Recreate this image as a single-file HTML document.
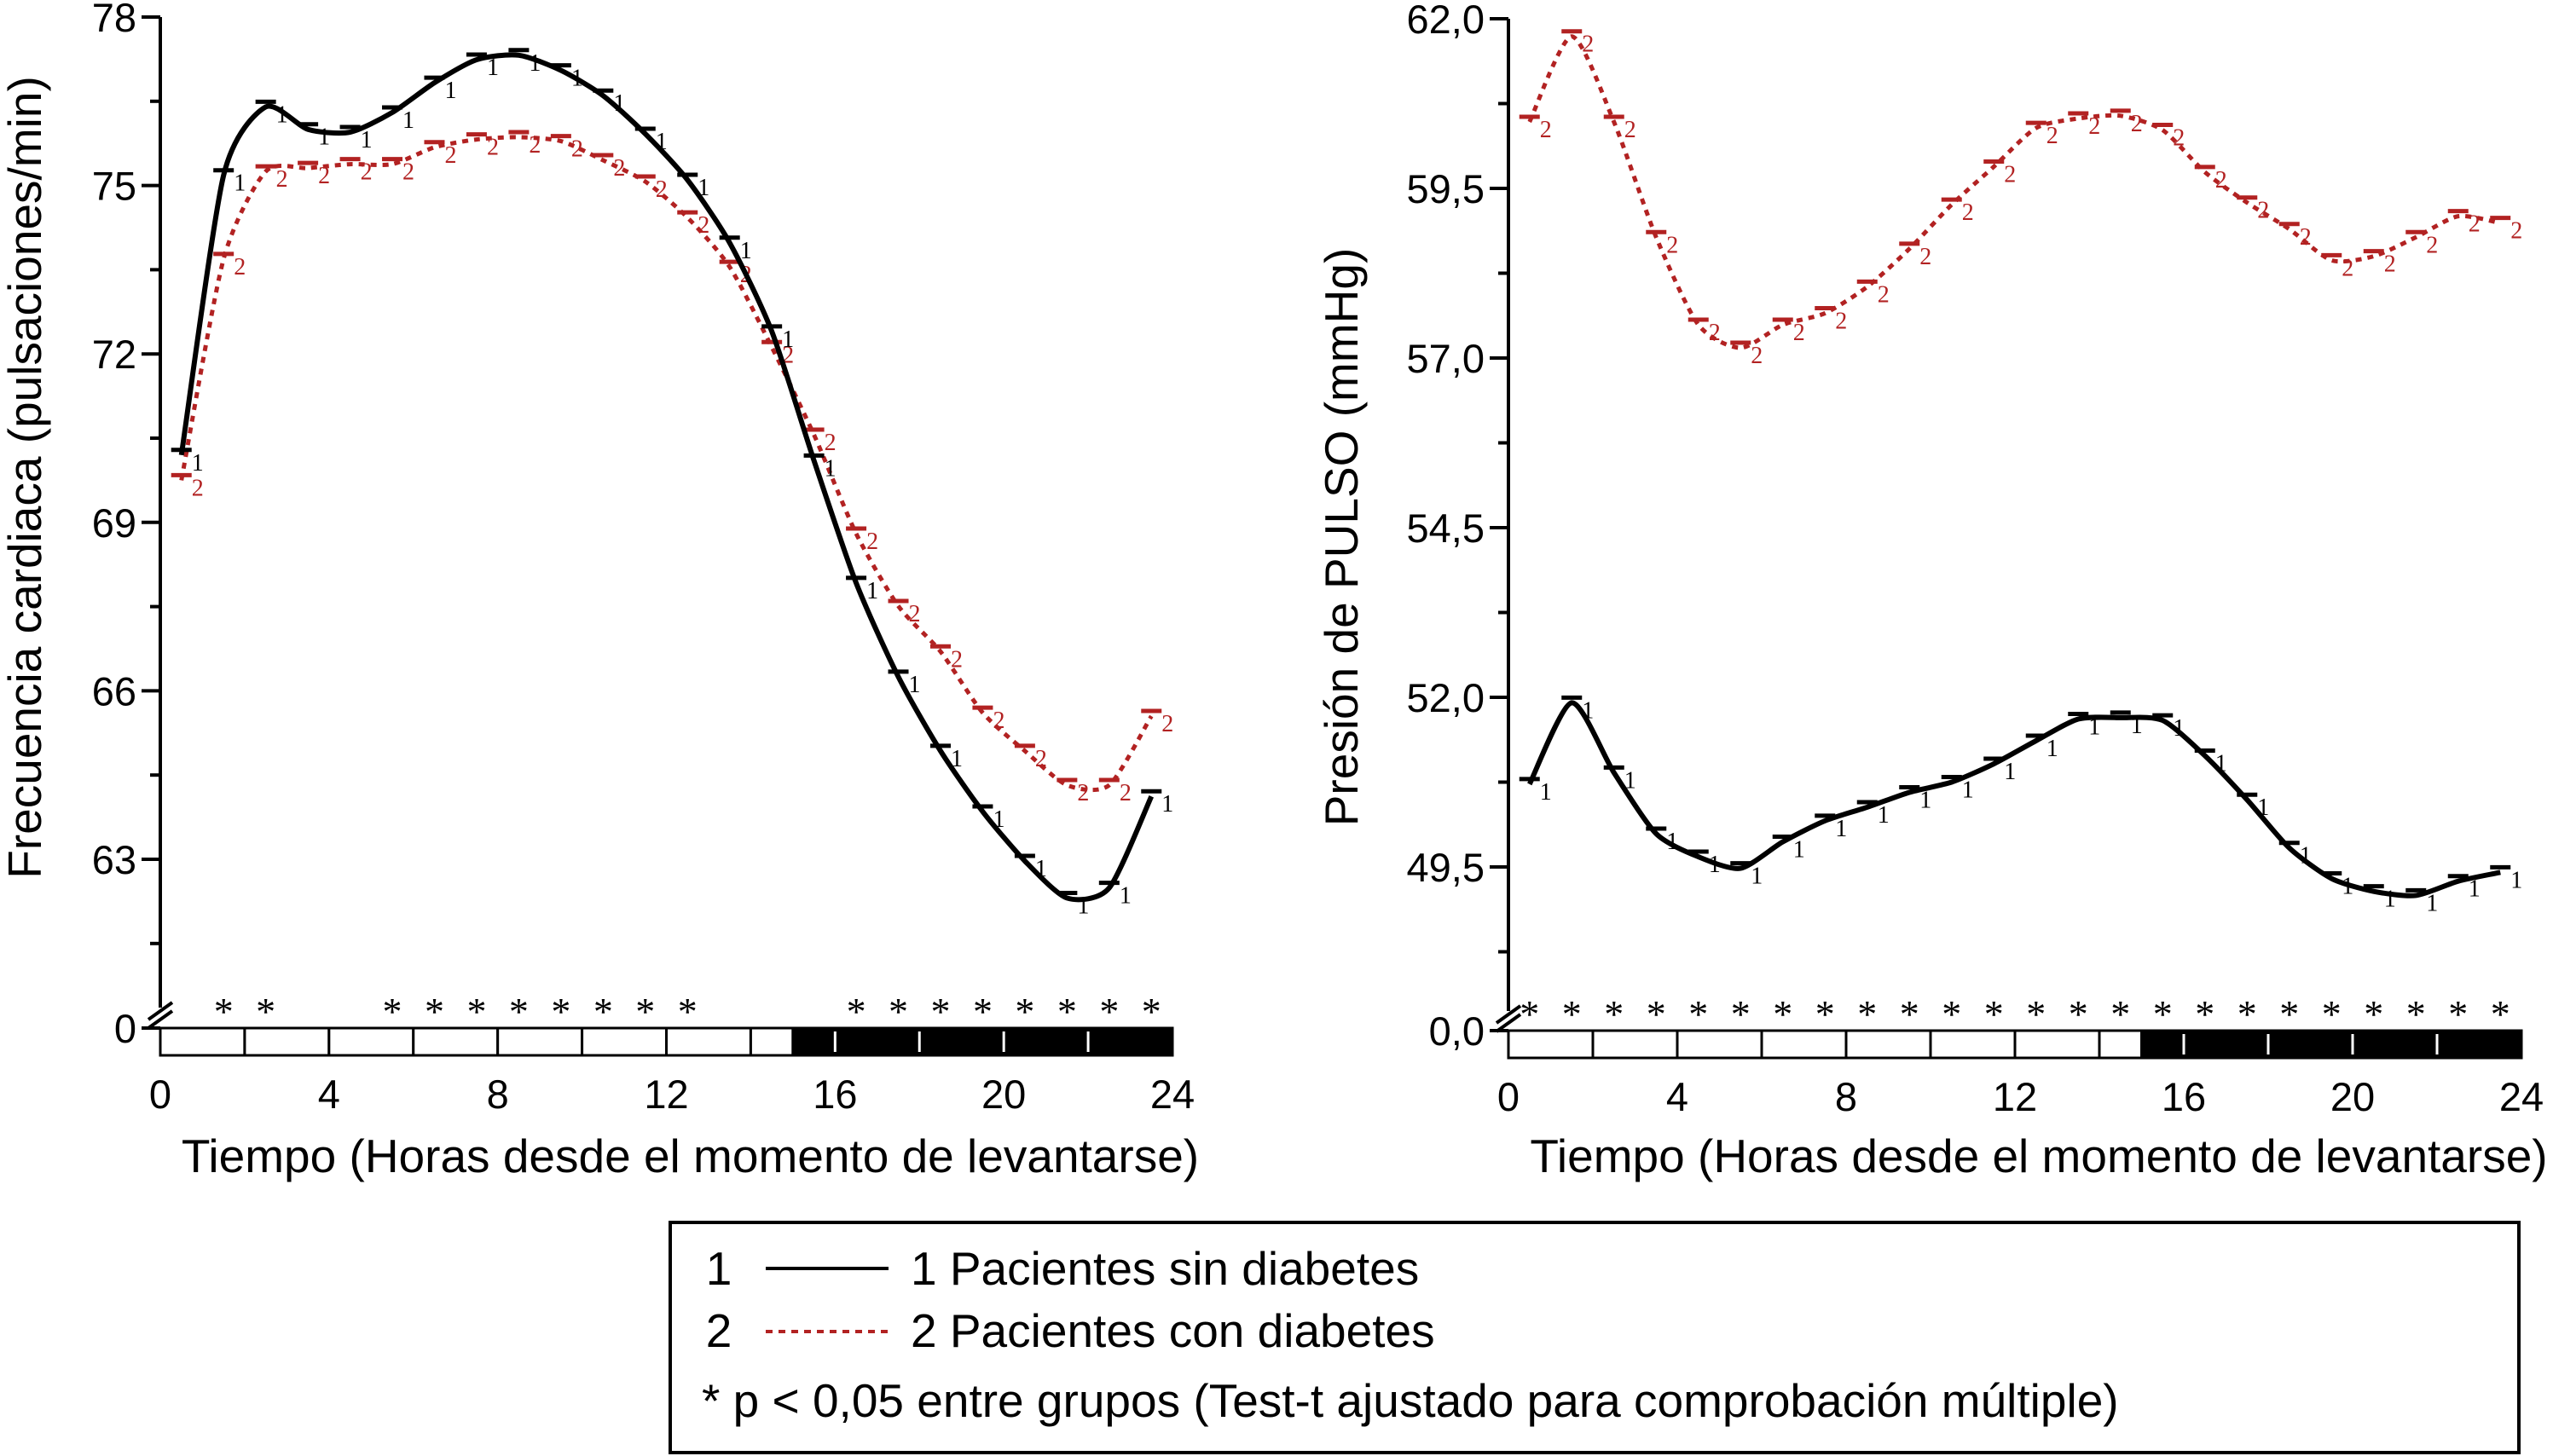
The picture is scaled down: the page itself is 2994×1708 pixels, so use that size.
<!DOCTYPE html>
<html><head><meta charset="utf-8">
<style>
body{margin:0;background:#fff;}
svg{display:block;font-family:"Liberation Sans",Arial,sans-serif;}
</style></head>
<body>
<svg id="chart" width="2994" height="1708" viewBox="0 0 2994 1708" xmlns="http://www.w3.org/2000/svg">
<g id="left"></g>
<g id="right"></g>
<g>
  <rect x="786" y="1434" width="2168" height="270" fill="none" stroke="#000" stroke-width="4"/>
  <text x="843" y="1507" font-size="55" text-anchor="middle">1</text>
  <line x1="898" y1="1488" x2="1042" y2="1488" stroke="#000" stroke-width="4"/>
  <text x="1068" y="1507" font-size="55">1 Pacientes sin diabetes</text>
  <text x="843" y="1580" font-size="55" text-anchor="middle">2</text>
  <line x1="898" y1="1562" x2="1042" y2="1562" stroke="#b22222" stroke-width="4" stroke-dasharray="8,7"/>
  <text x="1068" y="1580" font-size="55">2 Pacientes con diabetes</text>
  <text x="823" y="1662" font-size="55">* p &lt; 0,05 entre grupos (Test-t ajustado para comprobación múltiple)</text>
</g>
</svg>
<script>
const hours = [0.5,1.5,2.5,3.5,4.5,5.5,6.5,7.5,8.5,9.5,10.5,11.5,12.5,13.5,14.5,15.5,16.5,17.5,18.5,19.5,20.5,21.5,22.5,23.5];
const hrNoDiab = [70.2,75.18,76.4,76.0,75.95,76.3,76.83,77.24,77.32,77.05,76.6,75.92,75.1,73.98,72.4,70.1,67.92,66.25,64.93,63.85,62.97,62.31,62.49,64.12];
const hrDiab = [69.75,73.69,75.25,75.31,75.38,75.38,75.68,75.82,75.86,75.79,75.45,75.07,74.43,73.55,72.12,70.56,68.8,67.51,66.7,65.61,64.93,64.32,64.32,65.55];
const ppNoDiab = [50.72,51.92,50.89,49.99,49.65,49.48,49.87,50.18,50.38,50.6,50.75,51.02,51.36,51.68,51.7,51.66,51.14,50.49,49.78,49.33,49.14,49.08,49.29,49.42];
const ppDiab = [60.48,61.74,60.48,58.78,57.49,57.15,57.49,57.66,58.05,58.61,59.26,59.82,60.39,60.53,60.57,60.36,59.74,59.29,58.9,58.44,58.5,58.78,59.09,58.99];
const hrTicks = [63,66,69,72,75,78];
const hrTickLabels = ["63","66","69","72","75","78"];
const ppTicks = [49.5,52.0,54.5,57.0,59.5,62.0];
const ppTickLabels = ["49,5","52,0","54,5","57,0","59,5","62,0"];
const xTicks = [0,4,8,12,16,20,24];
const hrSig = [1.5,2.5,5.5,6.5,7.5,8.5,9.5,10.5,11.5,12.5,16.5,17.5,18.5,19.5,20.5,21.5,22.5,23.5];
const ppSig = hours.slice();

const NS="http://www.w3.org/2000/svg";
function mk(parent,tag,attrs){const e=document.createElementNS(NS,tag);for(const k in attrs)e.setAttribute(k,attrs[k]);parent.appendChild(e);return e;}

function smoothPath(pts){
  let d="M"+pts[0][0]+","+pts[0][1];
  for(let i=0;i<pts.length-1;i++){
    const p0=pts[i-1]||pts[i],p1=pts[i],p2=pts[i+1],p3=pts[i+2]||p2;
    const t=0.12;
    const c1x=p1[0]+(p2[0]-p0[0])*t,c1y=p1[1]+(p2[1]-p0[1])*t;
    const c2x=p2[0]-(p3[0]-p1[0])*t,c2y=p2[1]-(p3[1]-p1[1])*t;
    d+=" C"+c1x+","+c1y+" "+c2x+","+c2y+" "+p2[0]+","+p2[1];
  }
  return d;
}

function panel(g,cfg){
  const xs=h=>cfg.x0+h*(cfg.x24-cfg.x0)/24;
  const ys=v=>cfg.yBot+(v-cfg.vBot)*(cfg.yTop-cfg.yBot)/(cfg.vTop-cfg.vBot);
  let e=mk(g,"line",{x1:cfg.x0,y1:cfg.yTop,x2:cfg.x0,y2:cfg.breakY,stroke:"#000","stroke-width":4});
  
  
  const step=cfg.ticks[1]-cfg.ticks[0];
  cfg.ticks.forEach((t,i)=>{
    const y=ys(t);
    const tk=mk(g,"line",{x1:cfg.x0-22,y1:y,x2:cfg.x0,y2:y,stroke:"#000","stroke-width":4});
    
    
    const tx=mk(g,"text",{x:cfg.x0-28,y:y+17,"font-size":47,"text-anchor":"end"});
    tx.textContent=cfg.labels[i];
    
    
    if(i>0){const ym=ys(t-step/2);
      const mt=mk(g,"line",{x1:cfg.x0-12,y1:ym,x2:cfg.x0,y2:ym,stroke:"#000","stroke-width":4});
      
      }
  });
  const mt2=mk(g,"line",{x1:cfg.x0-12,y1:ys(cfg.ticks[0]-step/2),x2:cfg.x0,y2:ys(cfg.ticks[0]-step/2),stroke:"#000","stroke-width":4});
  
  
  [0,10].forEach(o=>{const b=mk(g,"line",{x1:cfg.x0-14,y1:cfg.breakY+14+o,x2:cfg.x0+14,y2:cfg.breakY-6+o,stroke:"#000","stroke-width":4});
    
    });
  const zt=mk(g,"line",{x1:cfg.x0-22,y1:cfg.barTop,x2:cfg.x0,y2:cfg.barTop,stroke:"#000","stroke-width":4});
  
  
  const zl=mk(g,"text",{x:cfg.x0-28,y:cfg.barTop+17,"font-size":47,"text-anchor":"end"});
  zl.textContent=cfg.zeroLabel;
  
  
  for(let h=0;h<24;h+=2){
    const x1=xs(h),x2=xs(Math.min(h+2,24));
    if(h>=14){
      const split=xs(15);
      if(h===14){
        const r1=mk(g,"rect",{x:x1,y:cfg.barTop,width:split-x1,height:cfg.barH,fill:"#fff",stroke:"#000","stroke-width":3});
        
        
        const r2=mk(g,"rect",{x:split,y:cfg.barTop,width:x2-split,height:cfg.barH,fill:"#000",stroke:"#000","stroke-width":3});
        
        
      } else {
        const r=mk(g,"rect",{x:x1,y:cfg.barTop,width:x2-x1,height:cfg.barH,fill:"#000",stroke:"#000","stroke-width":3});
        
        
        const w=mk(g,"line",{x1:x1,y1:cfg.barTop+4,x2:x1,y2:cfg.barTop+cfg.barH-4,stroke:"#fff","stroke-width":3});
        
        
      }
    } else {
      const r=mk(g,"rect",{x:x1,y:cfg.barTop,width:x2-x1,height:cfg.barH,fill:"#fff",stroke:"#000","stroke-width":3});
      
      
    }
  }
  xTicks.forEach(t=>{const tx=mk(g,"text",{x:xs(t),y:cfg.barTop+cfg.barH+62,"font-size":47,"text-anchor":"middle"});
    tx.textContent=String(t);
    
    });
  const xt=mk(g,"text",{x:(cfg.x0+cfg.x24)/2+28,y:1375,"font-size":55,"text-anchor":"middle"});
  xt.textContent="Tiempo (Horas desde el momento de levantarse)";
  
  
  const yt=mk(g,"text",{x:0,y:0,"font-size":55,"text-anchor":"middle",transform:`translate(${cfg.titleX},${cfg.titleY}) rotate(-90)`});
  yt.textContent=cfg.title;
  
  
  cfg.sig.forEach(h=>{const s=mk(g,"text",{x:xs(h),y:cfg.barTop-4,"font-size":46,"text-anchor":"middle","font-family":"Liberation Serif, serif"});
    s.textContent="*";
    
    });
  const series=[{v:cfg.s2,c:"#b22222",dash:"7,7",w:5,lab:"2",name:"series-diabetes"},{v:cfg.s1,c:"#000",dash:"none",w:6,lab:"1",name:"series-no-diabetes"}];
  series.forEach(s=>{
    const pts=s.v.map((v,i)=>[xs(hours[i]),ys(v)]);
    const p=mk(g,"path",{d:smoothPath(pts),fill:"none",stroke:s.c,"stroke-width":s.w,"stroke-dasharray":s.dash});
    
    
    pts.forEach(pt=>{
      const cap=mk(g,"line",{x1:pt[0]-12,y1:pt[1]-6,x2:pt[0]+12,y2:pt[1]-6,stroke:s.c,"stroke-width":5});
      
      
      const lb=mk(g,"text",{x:pt[0]+12,y:pt[1]+18,"font-size":28,fill:s.c,"font-family":"Liberation Serif, serif"});
      lb.textContent=s.lab;
      
      
    });
  });
}

panel(document.getElementById("left"),{x0:188,x24:1375,yTop:20,yBot:1008,vTop:78,vBot:63,breakY:1182,barTop:1206,barH:32,
  ticks:hrTicks,labels:hrTickLabels,zeroLabel:"0",s1:hrNoDiab,s2:hrDiab,sig:hrSig,
  title:"Frecuencia cardiaca (pulsaciones/min)",titleX:48,titleY:560});
panel(document.getElementById("right"),{x0:1769,x24:2957,yTop:22,yBot:1017,vTop:62,vBot:49.5,breakY:1186,barTop:1209,barH:32,
  ticks:ppTicks,labels:ppTickLabels,zeroLabel:"0,0",s1:ppNoDiab,s2:ppDiab,sig:ppSig,
  title:"Presión de PULSO (mmHg)",titleX:1592,titleY:630});
</script>
</body></html>
